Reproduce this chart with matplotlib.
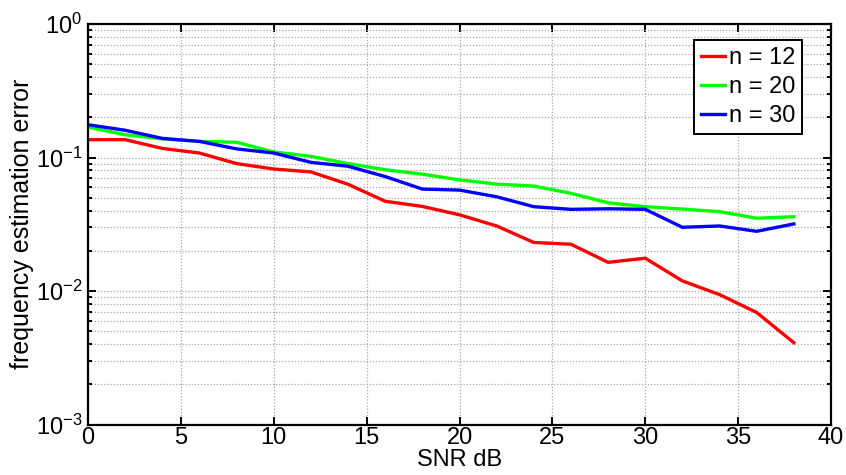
import matplotlib
matplotlib.use("Agg")
import matplotlib.pyplot as plt
from matplotlib.ticker import LogLocator, NullFormatter

plt.rcParams['font.family'] = ['Liberation Sans', 'DejaVu Sans']
plt.rcParams['mathtext.fontset'] = 'custom'
plt.rcParams['mathtext.rm'] = 'Liberation Sans'

snr = [0, 2, 4, 6, 8, 10, 12, 14, 16, 18, 20, 22, 24, 26, 28, 30, 32, 34, 36, 38]
err_n12 = [0.136, 0.136, 0.117, 0.108, 0.090, 0.082, 0.078, 0.063, 0.047, 0.043, 0.0372,
           0.0307, 0.0231, 0.0224, 0.0164, 0.0176, 0.0119, 0.0094, 0.0069, 0.0041]
err_n20 = [0.169, 0.148, 0.138, 0.132, 0.130, 0.110, 0.102, 0.090, 0.081, 0.075, 0.068,
           0.0632, 0.0611, 0.0539, 0.0458, 0.0428, 0.0411, 0.0393, 0.0351, 0.0360]
err_n30 = [0.176, 0.160, 0.139, 0.132, 0.116, 0.108, 0.092, 0.086, 0.072, 0.058, 0.057,
           0.0508, 0.0428, 0.0409, 0.0413, 0.0409, 0.0300, 0.0307, 0.0280, 0.0318]
labels = ['n = 12', 'n = 20', 'n = 30']
colors = ['#ff0000', '#00ff00', '#0000ff']

fig = plt.figure(figsize=(8.46, 4.75), dpi=100)
ax = fig.add_axes([88/846, 1 - 424.5/475, (831-88)/846, (424.5-24)/475])

for y, lab, c in zip([err_n12, err_n20, err_n30], labels, colors):
    ax.plot(snr, y, color=c, lw=2.4, label=lab)

ax.set_yscale('log')
ax.set_xlim(0, 40)
ax.set_ylim(1e-3, 1)
ax.set_xticks([0, 5, 10, 15, 20, 25, 30, 35, 40])
ax.yaxis.set_major_locator(LogLocator(base=10, numticks=10))
ax.yaxis.set_minor_locator(LogLocator(base=10, subs=range(2, 10), numticks=10))
ax.yaxis.set_minor_formatter(NullFormatter())

ax.grid(True, which='major', axis='both', linestyle=(0, (1, 1.5)), color='#a8a8a8', lw=0.9)
ax.grid(True, which='minor', axis='y', linestyle=(0, (1, 1.5)), color='#a8a8a8', lw=0.9)

ax.tick_params(which='both', direction='in', top=True, right=True, labelsize=17, width=1.4)
ax.tick_params(which='major', length=6, pad=4)
ax.tick_params(axis='x', which='major', pad=2)
ax.tick_params(which='minor', length=3)
for s in ax.spines.values():
    s.set_linewidth(1.6)

ax.set_xlabel('SNR dB', fontsize=17, labelpad=0)
ax.set_ylabel('frequency estimation error', fontsize=18, labelpad=1)

leg = ax.legend(loc='upper right', fontsize=17, fancybox=False, framealpha=1,
                edgecolor='black', handlelength=1.0, handletextpad=0.15,
                borderpad=0.3, labelspacing=0.3, borderaxespad=0)
leg.set_bbox_to_anchor(((802 - 88) / (831 - 88), 1 - (40 - 24) / 400.5), transform=ax.transAxes)
leg.get_frame().set_linewidth(1.4)

fig.savefig('out.png', dpi=100)
